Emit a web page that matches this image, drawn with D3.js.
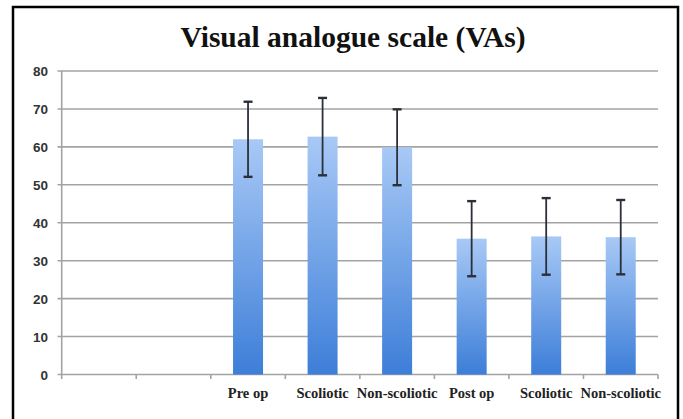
<!DOCTYPE html>
<html>
<head>
<meta charset="utf-8">
<script src="https://cdn.jsdelivr.net/npm/d3@7"></script>
<style>
  body { margin: 0; background: #fff; }
  #chart { width: 683px; height: 419px; }
</style>
</head>
<body>
<div id="chart"></div>
<script>
// chart data
const categories = ["", "", "Pre op", "Scoliotic", "Non-scoliotic", "Post op", "Scoliotic", "Non-scoliotic"];
const means = [null, null, 62, 62.7, 59.9, 35.8, 36.4, 36.2];
const errors = [null, null, 9.9, 10.2, 10, 9.9, 10.1, 9.8];
const yTicks = [0, 10, 20, 30, 40, 50, 60, 70, 80];

const width = 683, height = 419;
const svg = d3.select("#chart").append("svg")
    .attr("width", width)
    .attr("height", height);

// outer frame (open at the bottom, cropped)
svg.append("path")
    .attr("d", `M13,${height + 5} L13,7 L678,7 L678,${height + 5}`)
    .attr("fill", "none")
    .attr("stroke", "#000")
    .attr("stroke-width", 2.5);

svg.append("text")
    .attr("x", 353)
    .attr("y", 47)
    .attr("text-anchor", "middle")
    .attr("font-family", "'Liberation Serif', serif")
    .attr("font-weight", "bold")
    .attr("font-size", 29.5)
    .attr("fill", "#111")
    .text("Visual analogue scale (VAs)");

const x = d3.scaleBand()
    .domain(d3.range(categories.length))
    .range([61.7, 658])
    .paddingInner(0)
    .paddingOuter(0);

const y = d3.scaleLinear()
    .domain([0, 80])
    .range([374.5, 71]);

// gridlines
svg.append("g")
    .selectAll("line")
    .data(yTicks)
    .join("line")
    .attr("x1", 57.5)
    .attr("x2", 658)
    .attr("y1", d => y(d))
    .attr("y2", d => y(d))
    .attr("stroke", "#a3a3a3")
    .attr("stroke-width", 1.6);

// y axis line
svg.append("line")
    .attr("x1", x.range()[0]).attr("x2", x.range()[0])
    .attr("y1", y(80)).attr("y2", y(0))
    .attr("stroke", "#a3a3a3")
    .attr("stroke-width", 1.6);

// y labels
svg.append("g")
    .selectAll("text")
    .data(yTicks)
    .join("text")
    .attr("x", 48)
    .attr("y", d => y(d) + 5)
    .attr("text-anchor", "end")
    .attr("font-family", "'Liberation Sans', Arial, sans-serif")
    .attr("font-weight", "bold")
    .attr("font-size", 13.5)
    .attr("fill", "#333")
    .text(d => d);

// x tick marks at category boundaries
const bounds = x.domain().map(d => x(d)).concat([x.range()[1]]);
svg.append("g")
    .selectAll("line")
    .data(bounds)
    .join("line")
    .attr("x1", d => d).attr("x2", d => d)
    .attr("y1", y(0)).attr("y2", y(0) + 4.5)
    .attr("stroke", "#a3a3a3")
    .attr("stroke-width", 1.6);

// bar gradient
const grad = svg.append("defs").append("linearGradient")
    .attr("id", "barGrad")
    .attr("x1", 0).attr("y1", 0).attr("x2", 0).attr("y2", 1);
grad.append("stop").attr("offset", "0%").attr("stop-color", "#a8c9f6");
grad.append("stop").attr("offset", "100%").attr("stop-color", "#3d7ed8");

const barW = 30;
const rows = categories.map((c, i) => ({ i, c, v: means[i], e: errors[i] }))
    .filter(d => d.v != null);

svg.append("g")
    .selectAll("rect")
    .data(rows)
    .join("rect")
    .attr("x", d => x(d.i) + x.bandwidth() / 2 - barW / 2)
    .attr("y", d => y(d.v))
    .attr("width", barW)
    .attr("height", d => y(0) - y(d.v))
    .attr("fill", "url(#barGrad)");

// error bars
const eb = svg.append("g")
    .attr("stroke", "#2b3038")
    .attr("stroke-width", 1.8);
rows.forEach(d => {
    const cx = x(d.i) + x.bandwidth() / 2;
    eb.append("line").attr("x1", cx).attr("x2", cx)
        .attr("y1", y(d.v + d.e)).attr("y2", y(d.v - d.e));
    [d.v + d.e, d.v - d.e].forEach(v => {
        eb.append("line").attr("x1", cx - 4.5).attr("x2", cx + 4.5)
            .attr("y1", y(v)).attr("y2", y(v))
            .attr("stroke-width", 2.4);
    });
});

// x labels
svg.append("g")
    .selectAll("text")
    .data(categories.map((c, i) => ({ c, i })))
    .join("text")
    .attr("x", d => x(d.i) + x.bandwidth() / 2)
    .attr("y", 398)
    .attr("text-anchor", "middle")
    .attr("font-family", "'Liberation Serif', serif")
    .attr("font-weight", "bold")
    .attr("font-size", 14.5)
    .attr("fill", "#222")
    .text(d => d.c);
</script>
</body>
</html>
